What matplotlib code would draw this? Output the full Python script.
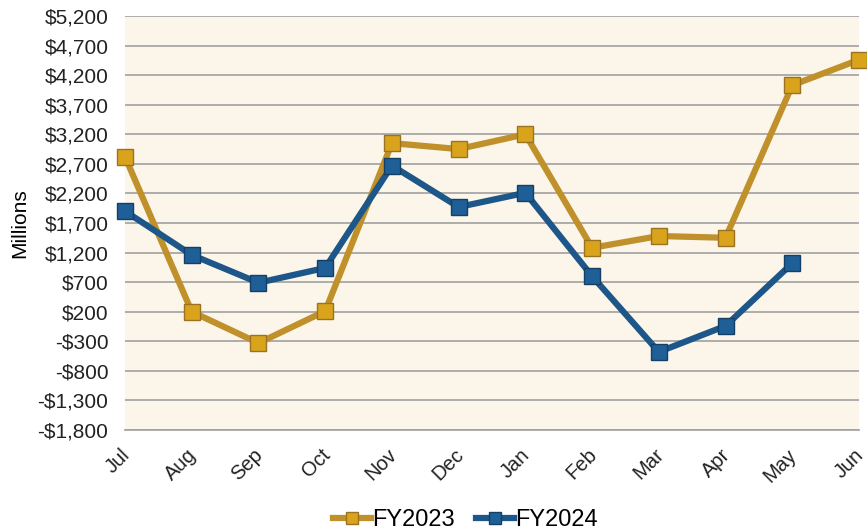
import matplotlib.pyplot as plt
import matplotlib.transforms as mtransforms
from matplotlib.ticker import FuncFormatter

months = ['Jul', 'Aug', 'Sep', 'Oct', 'Nov', 'Dec', 'Jan', 'Feb', 'Mar', 'Apr', 'May', 'Jun']
fy2023 = [2820, 200, -330, 210, 3050, 2950, 3200, 1280, 1480, 1450, 4030, 4460]
fy2024 = [1900, 1160, 690, 940, 2670, 1970, 2210, 800, -480, -40, 1020]
yticks = [-1800, -1300, -800, -300, 200, 700, 1200, 1700, 2200, 2700, 3200, 3700, 4200, 4700, 5200]

plt.rcParams['font.family'] = ['Liberation Sans', 'DejaVu Sans']

fig = plt.figure(figsize=(8.67, 5.31), dpi=100)
ax = fig.add_axes([0.1442, 0.1902, 0.8466, 0.7797])
ax.set_facecolor('#fbf5ea')

x23 = list(range(len(fy2023)))
x24 = list(range(len(fy2024)))
ax.plot(x23, fy2023, color='#c0902a', lw=4.5, marker='s', ms=11,
        mfc='#d9a41c', mec='#9a7222', mew=1, clip_on=False, zorder=3, label='FY2023')
ax.plot(x24, fy2024, color='#1d5688', lw=4.5, marker='s', ms=11,
        mfc='#1f5f97', mec='#163f66', mew=1, clip_on=False, zorder=4, label='FY2024')

ax.set_xlim(0, 11)
ax.set_ylim(-1800, 5200)
ax.set_yticks(yticks)


def money(v, pos):
    v = int(round(v))
    return ('-$' if v < 0 else '$') + f'{abs(v):,}'


ax.yaxis.set_major_formatter(FuncFormatter(money))
ax.set_xticks(x23)
ax.set_xticklabels(months, rotation=45, ha='right', rotation_mode='anchor')
ax.tick_params(axis='both', length=0, labelsize=15, colors='#222222')
ax.tick_params(axis='x', pad=11, labelsize=14.5)
ax.tick_params(axis='y', pad=12)
# nudge month labels a little to the left
shift = mtransforms.ScaledTranslation(-5 / 100, 0, fig.dpi_scale_trans)
for lab in ax.get_xticklabels():
    lab.set_transform(lab.get_transform() + shift)
ax.grid(axis='y', color='#a0a0a0', lw=1.2)
ax.set_axisbelow(True)
for s in ['top', 'right', 'left']:
    ax.spines[s].set_visible(False)
ax.spines['bottom'].set_color('#a0a0a0')
ax.spines['bottom'].set_linewidth(1.2)
ax.set_ylabel('Millions', fontsize=15, labelpad=6)

fig.legend(loc='lower center', bbox_to_anchor=(0.537, -0.04), ncol=2, frameon=False,
           fontsize=17, handlelength=1.6, handletextpad=0.05, columnspacing=0.9,
           markerscale=0.85)

fig.savefig('out.png', dpi=100)
